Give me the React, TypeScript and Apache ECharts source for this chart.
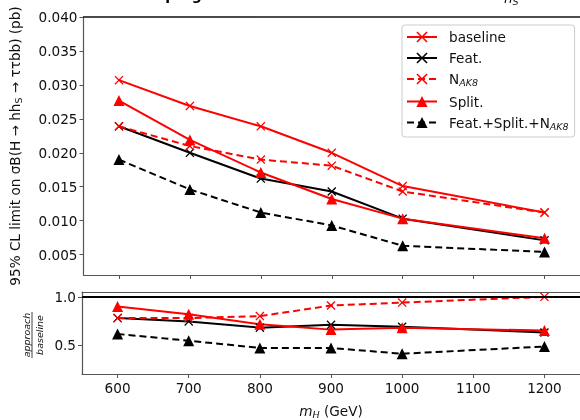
import React, { useEffect, useRef } from "react";
import * as echarts from "echarts";

const masses = [600, 700, 800, 900, 1000, 1200];
const baseline = [0.0307, 0.0269, 0.0239, 0.02, 0.0151, 0.0112];
const feat = [0.0239, 0.02, 0.0162, 0.0143, 0.0103, 0.0071];
const nak8 = [0.0239, 0.021, 0.019, 0.0181, 0.0143, 0.0112];
const split = [0.0277, 0.0219, 0.0171, 0.0132, 0.0103, 0.0074];
const combined = [0.019, 0.0146, 0.0112, 0.0093, 0.0063, 0.0054];

const featRatio = [0.78, 0.745, 0.68, 0.71, 0.69, 0.63];
const nak8Ratio = [0.78, 0.78, 0.8, 0.91, 0.94, 1.0];
const splitRatio = [0.9, 0.82, 0.715, 0.66, 0.68, 0.65];
const combRatio = [0.615, 0.545, 0.47, 0.47, 0.41, 0.485];

const xTicks = [600, 700, 800, 900, 1000, 1100, 1200];
const yTicksTop = [0.005, 0.01, 0.015, 0.02, 0.025, 0.03, 0.035, 0.04];
const yTicksBottom = [0.5, 1.0];

const FONT = "DejaVu Sans";
const FS = 13.6;
const XSYM = "path://M1,0 L5,4 L9,0 L10,1 L6,5 L10,9 L9,10 L5,6 L1,10 L0,9 L4,5 L0,1 Z";
const RED = "#ff0000";
const BLACK = "#000000";
const DASH = [7, 4];

const pairs = (ys: number[]) => masses.map((m, i) => [m, ys[i]]);

type Spec = { name: string; color: string; dashed: boolean; tri: boolean; top: number[]; bottom: number[] | null };
const specs: Spec[] = [
  { name: "baseline", color: RED, dashed: false, tri: false, top: baseline, bottom: null },
  { name: "Feat.", color: BLACK, dashed: false, tri: false, top: feat, bottom: featRatio },
  { name: "N_AK8", color: RED, dashed: true, tri: false, top: nak8, bottom: nak8Ratio },
  { name: "Split.", color: RED, dashed: false, tri: true, top: split, bottom: splitRatio },
  { name: "Feat.+Split.+N_AK8", color: BLACK, dashed: true, tri: true, top: combined, bottom: combRatio },
];

function mkSeries(s: Spec, data: number[], idx: number) {
  return {
    type: "line",
    name: s.name,
    xAxisIndex: idx,
    yAxisIndex: idx,
    data: pairs(data),
    symbol: s.tri ? "triangle" : XSYM,
    symbolSize: s.tri ? 11 : 9,
    showAllSymbol: true,
    lineStyle: { color: s.color, width: 2, type: s.dashed ? DASH : "solid" },
    itemStyle: { color: s.color, borderWidth: 0 },
    emphasis: { disabled: true },
  };
}

export default function App() {
  const ref = useRef<HTMLDivElement>(null);
  useEffect(() => {
    if (!ref.current) return;
    const chart = echarts.init(ref.current, null, { renderer: "svg" });
    const series: any[] = [];
    specs.forEach((s) => series.push(mkSeries(s, s.top, 0)));
    specs.forEach((s) => {
      if (s.bottom) series.push(mkSeries(s, s.bottom, 1));
    });
    series.push({
      type: "line",
      name: "ratio1",
      xAxisIndex: 1,
      yAxisIndex: 1,
      data: [],
      markLine: {
        silent: true,
        symbol: ["none", "none"],
        label: { show: false },
        lineStyle: { color: "#000", width: 2, type: "solid" },
        data: [{ yAxis: 1.0 }],
      },
    });

    const axisLineStyle = { lineStyle: { color: "#555", width: 1.2 } };
    const tickStyle = { lineStyle: { color: "#555", width: 1 }, length: 4 };
    const labelBase = { fontFamily: FONT, fontSize: FS, color: "#111" };
    const subRich = {
      s: { fontFamily: FONT, fontSize: 9.5, color: "#111", padding: [7, 0, 0, 0] },
      i: { fontFamily: FONT, fontSize: FS, color: "#111", fontStyle: "italic" },
      si: { fontFamily: FONT, fontSize: 9.5, color: "#111", fontStyle: "italic", padding: [7, 0, 0, 0] },
    };

    chart.setOption({
      animation: false,
      textStyle: { fontFamily: FONT },
      grid: [
        { left: 82, right: -5, top: 17, height: 258 },
        { left: 82, right: -5, top: 292, height: 86 },
      ],
      xAxis: [
        {
          type: "value",
          gridIndex: 0,
          min: 550,
          max: 1250,
          axisLine: axisLineStyle,
          axisTick: { ...tickStyle, customValues: xTicks },
          axisLabel: { show: false },
          splitLine: { show: false },
        },
        {
          type: "value",
          gridIndex: 1,
          min: 550,
          max: 1250,
          axisLine: axisLineStyle,
          axisTick: { ...tickStyle, customValues: xTicks },
          axisLabel: { ...labelBase, customValues: xTicks, margin: 7, formatter: (v: number) => String(v) },
          splitLine: { show: false },
          name: "{i|m}{si|H} (GeV)",
          nameLocation: "middle",
          nameGap: 28,
          nameTextStyle: { ...labelBase, rich: subRich },
        },
        {
          type: "value",
          gridIndex: 0,
          position: "top",
          min: 550,
          max: 1250,
          axisLine: { lineStyle: { color: "#111", width: 1.5 } },
          axisTick: { show: false },
          axisLabel: { show: false },
          splitLine: { show: false },
        },
        {
          type: "value",
          gridIndex: 1,
          position: "top",
          min: 550,
          max: 1250,
          axisLine: axisLineStyle,
          axisTick: { show: false },
          axisLabel: { show: false },
          splitLine: { show: false },
        },
      ],
      yAxis: [
        {
          type: "value",
          gridIndex: 0,
          min: 0.002,
          max: 0.04,
          axisLine: { show: true, ...axisLineStyle },
          axisTick: { show: true, ...tickStyle, customValues: yTicksTop },
          axisLabel: {
            ...labelBase,
            customValues: yTicksTop,
            margin: 6,
            formatter: (v: number) => v.toFixed(3),
          },
          splitLine: { show: false },
          name: "95% CL limit on σB(H → hh{s|S} → ττbb) (pb)",
          nameLocation: "middle",
          nameGap: 60,
          nameTextStyle: { ...labelBase, rich: subRich },
        },
        {
          type: "value",
          gridIndex: 1,
          min: 0.2,
          max: 1.05,
          axisLine: { show: true, ...axisLineStyle },
          axisTick: { show: true, ...tickStyle, customValues: yTicksBottom },
          axisLabel: {
            ...labelBase,
            customValues: yTicksBottom,
            margin: 6,
            formatter: (v: number) => v.toFixed(1),
          },
          splitLine: { show: false },
        },
      ],
      legend: {
        data: specs.map((s) => s.name),
        orient: "vertical",
        left: 402,
        top: 25,
        padding: [5, 6, 6, 4],
        itemWidth: 30,
        itemHeight: 14,
        itemGap: 7,
        backgroundColor: "#fff",
        borderColor: "#ccc",
        borderWidth: 1,
        borderRadius: 3,
        formatter: (n: string) => (n.indexOf("N_AK8") >= 0 ? n.replace("N_AK8", "N{si|AK8}") : n),
        textStyle: {
          ...labelBase,
          padding: [0, 0, 0, 7],
          rich: {
            si: { fontFamily: FONT, fontSize: 9.5, color: "#111", fontStyle: "italic", padding: [7, 0, 0, 0] },
          },
        },
        selectedMode: false,
      },
      graphic: [
        {
          type: "text",
          left: 100,
          top: -12,
          style: { text: "Work in progress", fontFamily: FONT, fontSize: 14, fontWeight: "bold", fill: "#000" },
        },
        {
          type: "text",
          left: 504,
          top: -9,
          style: {
            text: "{i|h}{si|S}",
            fontFamily: FONT,
            fontSize: FS,
            fill: "#111",
            rich: {
              i: { fontFamily: FONT, fontSize: FS, fontStyle: "italic", fill: "#111" },
              si: { fontFamily: FONT, fontSize: 9.5, fontStyle: "italic", fill: "#111", padding: [7, 0, 0, 0] },
            },
          },
        },
        {
          type: "group",
          x: 32,
          y: 335,
          rotation: Math.PI / 2,
          children: [
            {
              type: "text",
              x: 0,
              y: -1,
              style: { text: "approach", fontFamily: FONT, fontSize: 9.5, fontStyle: "italic", fill: "#111", align: "center", verticalAlign: "bottom" },
            },
            {
              type: "line",
              shape: { x1: -23, y1: 0, x2: 23, y2: 0 },
              style: { stroke: "#111", lineWidth: 0.8 },
            },
            {
              type: "text",
              x: 0,
              y: 2,
              style: { text: "baseline", fontFamily: FONT, fontSize: 9.5, fontStyle: "italic", fill: "#111", align: "center", verticalAlign: "top" },
            },
          ],
        },
      ],
      series,
    });
    return () => chart.dispose();
  }, []);
  return <div ref={ref} style={{ position: "fixed", left: 0, top: 0, width: 580, height: 420 }} />;
}
